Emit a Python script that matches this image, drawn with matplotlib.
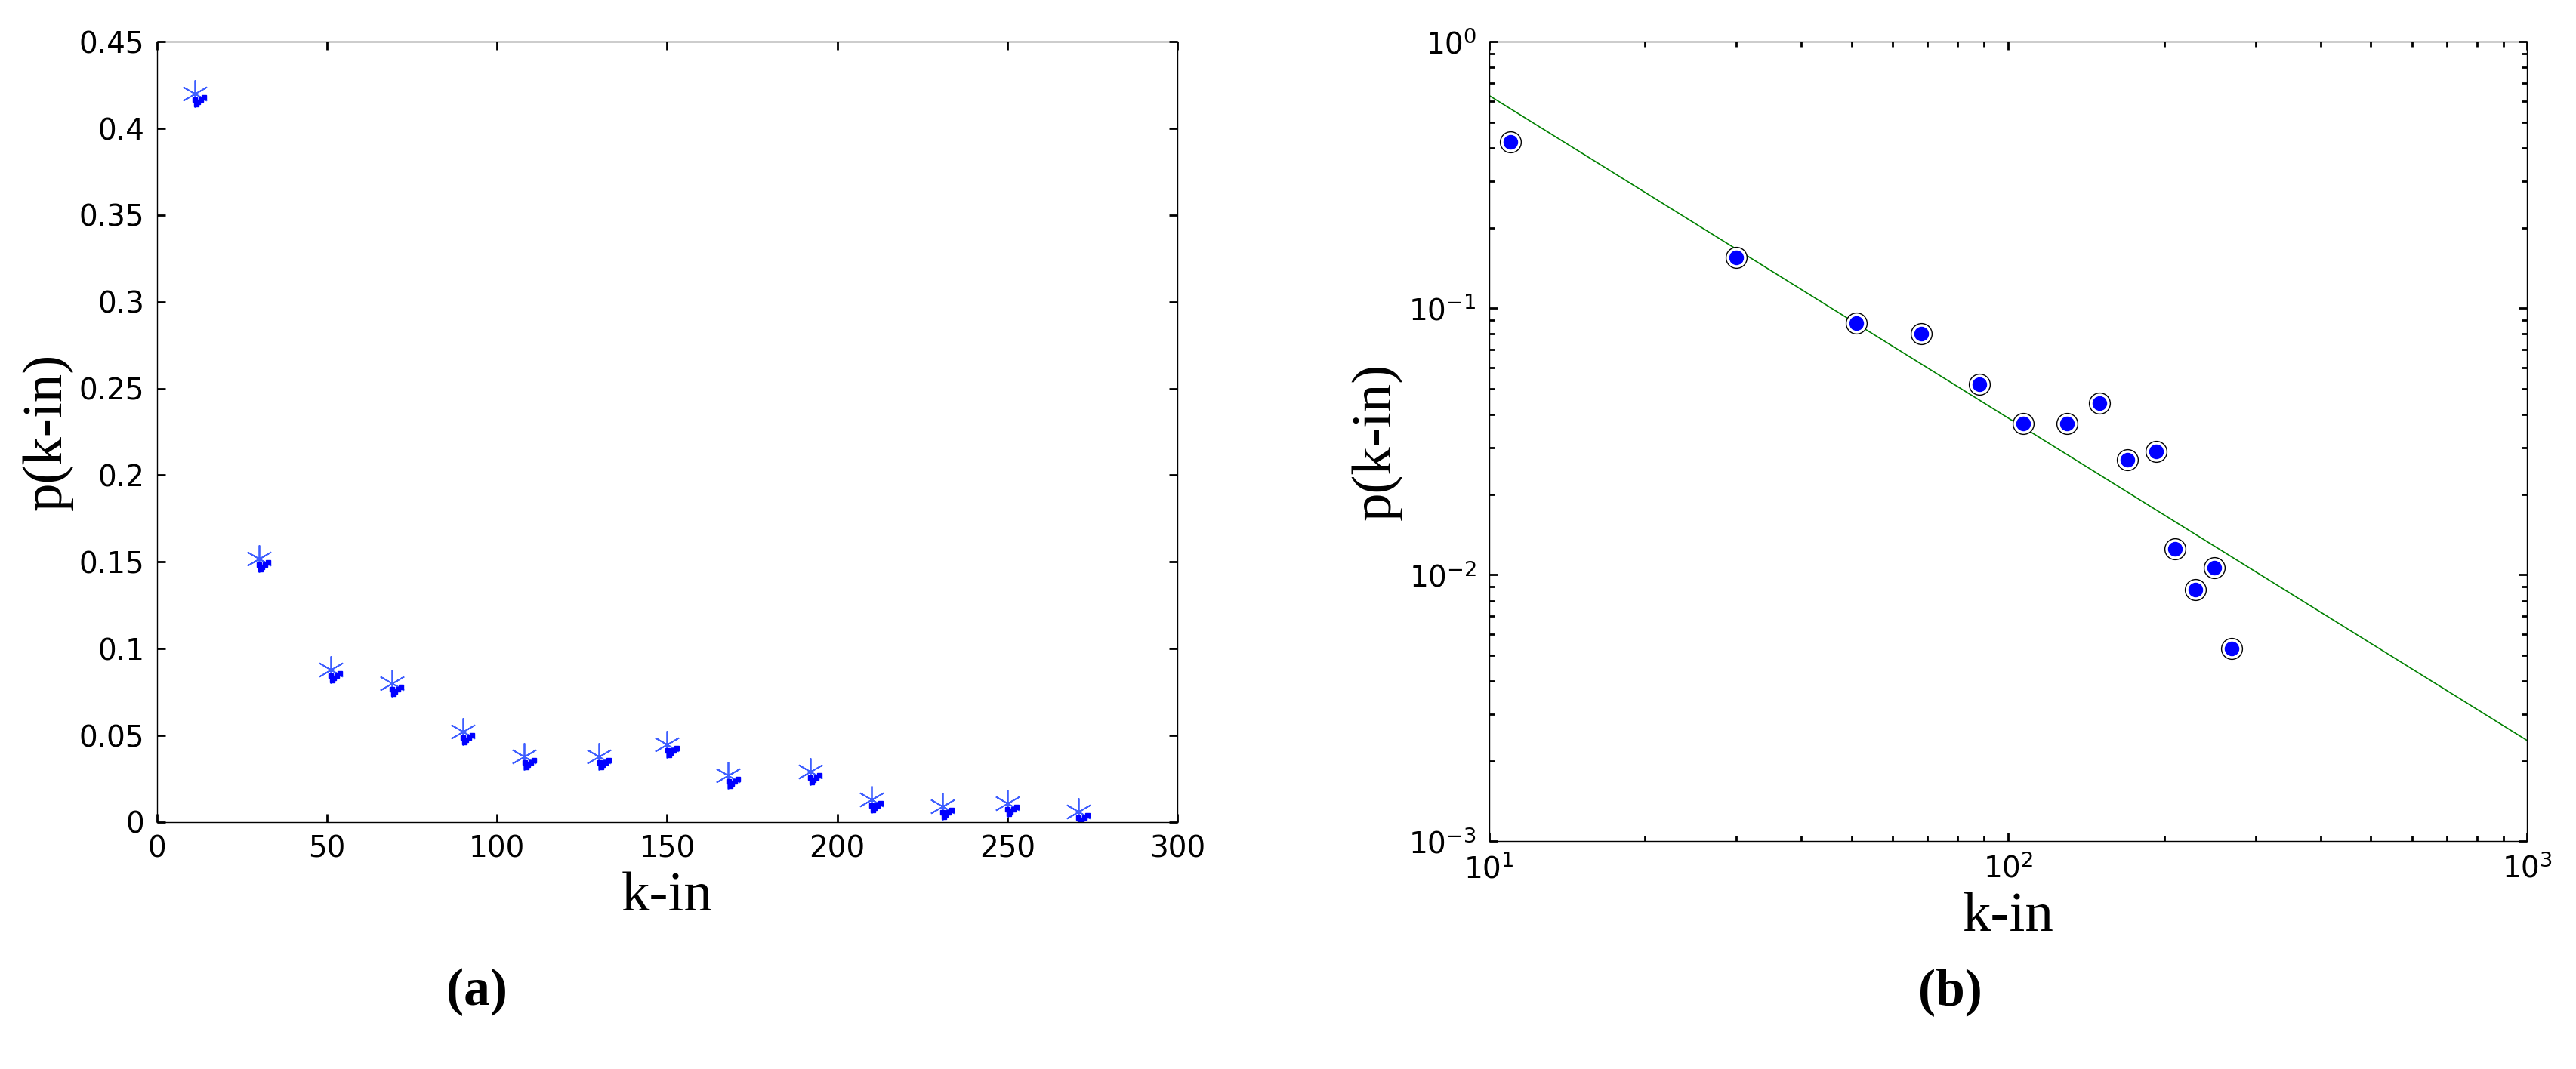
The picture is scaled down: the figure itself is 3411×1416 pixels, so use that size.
import matplotlib
matplotlib.use("Agg")
import matplotlib.pyplot as plt
import matplotlib.transforms as mtrans
import numpy as np
from matplotlib.ticker import LogLocator, NullFormatter

k_a = [11, 30, 51, 69, 90, 108, 130, 150, 168, 192, 210, 231, 250, 271]
p_a = [0.42, 0.152, 0.088, 0.080, 0.052, 0.038, 0.038, 0.045, 0.027, 0.029, 0.013, 0.009, 0.011, 0.006]
k_b = [11, 30, 51, 68, 88, 107, 130, 150, 170, 193, 210, 230, 250, 270]
p_b = [0.42, 0.155, 0.088, 0.080, 0.052, 0.037, 0.037, 0.044, 0.027, 0.029, 0.0125, 0.0088, 0.0106, 0.0053]
fit_amp = 10.2
fit_exp = -1.21
fit_range = [10, 1000]

fig = plt.figure(figsize=(34.11, 14.16), dpi=100)
tickfam = ['Liberation Sans Narrow', 'DejaVu Sans']
ticksize = 28
labfont = dict(family='Liberation Serif', size=54)

ax1 = fig.add_axes([0.061, 0.231, 0.396, 0.730])
ax1.plot(k_a, p_a, ls='none', marker=(6, 2, 0), ms=26, mew=1.3, mec='#3f5fff')
# small dotted "error" marks just below each point
for dx, dy in [(-4, -8), (0, -11), (4, -8), (8, -5), (-2, -14)]:
    off = mtrans.offset_copy(ax1.transData, fig=fig, x=dx * 0.72 + 3, y=dy * 0.72, units='points')
    ax1.plot(k_a, p_a, ls='none', marker='s', ms=5, mfc='blue', mec='blue', transform=off)
ax1.set_xlim(0, 300); ax1.set_ylim(0, 0.45)
ax1.set_xticks([0, 50, 100, 150, 200, 250, 300])
ax1.set_yticks([0, 0.05, 0.1, 0.15, 0.2, 0.25, 0.3, 0.35, 0.4, 0.45])
ax1.set_yticklabels(['0', '0.05', '0.1', '0.15', '0.2', '0.25', '0.3', '0.35', '0.4', '0.45'])
ax1.set_xlabel('k-in', fontdict=labfont, labelpad=8)
ax1.set_ylabel('p(k-in)', fontdict=labfont, labelpad=6)

ax2 = fig.add_axes([0.578, 0.213, 0.403, 0.748])
ax2.set_xscale('log'); ax2.set_yscale('log')
xf = np.array(fit_range, dtype=float)
ax2.plot(xf, fit_amp * xf ** fit_exp, color='green', lw=1.2)
ax2.plot(k_b, p_b, ls='none', marker='o', ms=20, mfc='white', mec='black', mew=1)
ax2.plot(k_b, p_b, ls='none', marker='o', ms=13, mfc='blue', mec='blue')
ax2.set_xlim(10, 1000); ax2.set_ylim(1e-3, 1)
ax2.yaxis.set_minor_locator(LogLocator(subs=np.arange(2, 10)))
ax2.xaxis.set_minor_locator(LogLocator(subs=np.arange(2, 10)))
ax2.yaxis.set_minor_formatter(NullFormatter()); ax2.xaxis.set_minor_formatter(NullFormatter())
ax2.set_xlabel('k-in', fontdict=labfont, labelpad=8)
ax2.set_ylabel('p(k-in)', fontdict=labfont, labelpad=6)

for ax in (ax1, ax2):
    ax.tick_params(which='both', direction='in', top=True, right=True, width=2, length=8, pad=12)
    ax.tick_params(which='minor', length=5)
    for lab in ax.get_xticklabels() + ax.get_yticklabels():
        lab.set_fontfamily(tickfam); lab.set_fontsize(ticksize)
    for s in ax.spines.values():
        s.set_linewidth(1)

fig.text(0.185, 0.06, '(a)', fontsize=50, fontweight='bold', family='Liberation Serif', ha='center')
fig.text(0.757, 0.06, '(b)', fontsize=50, fontweight='bold', family='Liberation Serif', ha='center')
fig.savefig('out.png', dpi=100, facecolor='white')
